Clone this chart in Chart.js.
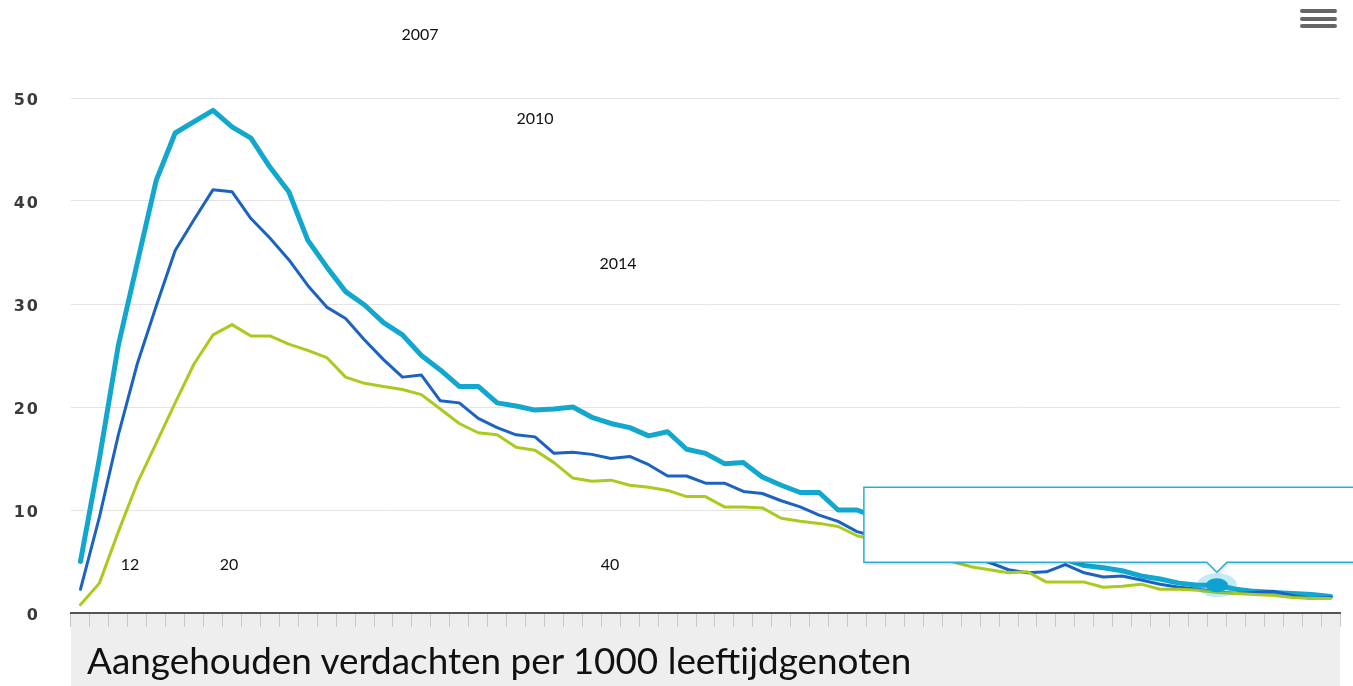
<!DOCTYPE html>
<html>
<head>
<meta charset="utf-8">
<script src="https://cdn.jsdelivr.net/npm/chart.js@4.4.1/dist/chart.umd.min.js"></script>
<style>
html,body{margin:0;padding:0;background:#fff;overflow:hidden}
#wrap{position:relative;width:1353px;height:686px}
#c{position:absolute;left:0;top:0}
.lbl{position:absolute;font-family:Lato,'Open Sans',sans-serif;font-size:16px;color:#111;transform:translate(-50%,-50%);white-space:nowrap;line-height:1}
#title{position:absolute;left:87px;font-family:Lato,'Open Sans',sans-serif;color:#111;white-space:nowrap;line-height:1}
.bar{position:absolute;left:1300px;width:37px;height:4px;background:#666;border-radius:2px}
</style>
</head>
<body>
<div id="wrap">
<canvas id="c" width="1353" height="686"></canvas>
<div class="bar" style="top:9px"></div>
<div class="bar" style="top:17px"></div>
<div class="bar" style="top:24px"></div>
<div id="title">Aangehouden verdachten per 1000 leeftijdgenoten</div>
</div>
<script>
// ---- data ----
const ages = ['12','13','14','15','16','17','18','19','20','21','22','23','24','25','26','27','28','29','30','31','32','33','34','35','36','37','38','39','40','41','42','43','44','45','46','47','48','49','50','51','52','53','54','55','56','57','58','59','60','61','62','63','64','65','66','67','68','69','70','71','72','73','74','75','76','77','78'];
const seriesNames = ['2007','2010','2014'];
const rate2007 = [5.0,15.0,26.0,34.0,42.0,46.6,47.7,48.8,47.2,46.1,
  43.3,40.9,36.2,33.6,31.2,29.9,28.2,27.0,25.0,23.6,
  22.0,22.0,20.4,20.1,19.7,19.8,20.0,19.0,18.4,18.0,
  17.2,17.6,15.9,15.5,14.5,14.6,13.2,12.4,11.7,11.7,
  10.0,10.0,9.3,8.7,8.2,7.7,7.3,6.9,6.6,6.2,
  5.9,5.6,5.2,4.6,4.4,4.1,3.6,3.3,2.9,2.7,
  2.7,2.3,2.1,2.0,1.9,1.8,1.6];
const rate2010 = [2.3,9.3,17.3,24.2,29.8,35.2,38.2,41.1,40.9,38.3,
  36.4,34.3,31.8,29.7,28.6,26.5,24.6,22.9,23.1,20.6,
  20.4,18.9,18.0,17.3,17.1,15.5,15.6,15.4,15.0,15.2,
  14.4,13.3,13.3,12.6,12.6,11.8,11.6,10.9,10.3,9.5,
  8.9,7.9,7.4,7.0,6.6,6.2,5.8,5.4,4.9,4.2,
  3.9,4.0,4.7,3.9,3.5,3.6,3.2,2.8,2.5,2.3,
  2.1,1.9,2.0,2.1,1.7,1.4,1.5];
const rate2014 = [0.8,2.9,7.9,12.6,16.5,20.4,24.2,27.0,28.0,26.9,
  26.9,26.1,25.5,24.8,22.9,22.3,22.0,21.7,21.2,19.8,
  18.4,17.5,17.3,16.1,15.8,14.6,13.1,12.8,12.9,12.4,
  12.2,11.9,11.3,11.3,10.3,10.3,10.2,9.2,8.9,8.7,
  8.4,7.5,7.1,6.6,6.1,5.6,5.0,4.5,4.2,3.9,
  4.0,3.0,3.0,3.0,2.5,2.6,2.8,2.3,2.3,2.2,
  2.0,1.9,1.8,1.7,1.5,1.4,1.4];
const yTicks = [0,10,20,30,40,50];
const looseLabels = ['12','20','40'];
const hoverAge = '72';

// ---- overlay texts ----
const wrap = document.getElementById('wrap');
function addLabel(text, x, y){
  const d = document.createElement('div');
  d.className = 'lbl'; d.textContent = text;
  d.style.left = x + 'px'; d.style.top = y + 'px';
  wrap.appendChild(d);
}
addLabel(seriesNames[0], 420, 34);
addLabel(seriesNames[1], 535, 118);
addLabel(seriesNames[2], 618, 263);
addLabel(looseLabels[0], 130, 564);
addLabel(looseLabels[1], 229, 564);
addLabel(looseLabels[2], 610, 564);

// fit title width
(function(){
  const t = document.getElementById('title');
  const mctx = document.createElement('canvas').getContext('2d');
  mctx.font = '32px Lato';
  const w = mctx.measureText(t.textContent).width;
  const F = 32 * 826 / w;
  t.style.fontSize = F.toFixed(2) + 'px';
  t.style.top = (675 - 0.887 * F).toFixed(1) + 'px';
})();

// ---- plugin ----
const decor = {
  id: 'decor',
  beforeDraw(chart){
    const {ctx, chartArea:a} = chart;
    ctx.save();
    ctx.fillStyle = '#eeeeee';
    ctx.fillRect(a.left, a.bottom, a.right - a.left, chart.height - a.bottom);
    ctx.restore();
    ctx.letterSpacing = '2px';
  },
  beforeDatasetsDraw(chart){
    chart.ctx.letterSpacing = '0px';
  },
  afterDatasetsDraw(chart){
    const {ctx} = chart;
    const idx = ages.indexOf(hoverAge);
    const meta = chart.getDatasetMeta(0);
    const pt = meta.data[idx];
    if (!pt) return;
    const px = pt.x, py = pt.y;
    ctx.save();
    ctx.fillStyle = 'rgba(20,170,215,0.25)';
    ctx.beginPath(); ctx.ellipse(px, py, 20, 12, 0, 0, Math.PI*2); ctx.fill();
    ctx.fillStyle = '#0ea2d2';
    ctx.beginPath(); ctx.ellipse(px, py, 11, 7, 0, 0, Math.PI*2); ctx.fill();
    // tooltip box
    const left = px - 353, right = chart.width + 30, bottom = py - 23, top = bottom - 75;
    ctx.beginPath();
    ctx.moveTo(left, top); ctx.lineTo(right, top); ctx.lineTo(right, bottom);
    ctx.lineTo(px + 10, bottom); ctx.lineTo(px, bottom + 10); ctx.lineTo(px - 10, bottom);
    ctx.lineTo(left, bottom); ctx.closePath();
    ctx.shadowColor = 'rgba(0,0,0,0.18)'; ctx.shadowOffsetX = 1; ctx.shadowOffsetY = 2; ctx.shadowBlur = 3;
    ctx.fillStyle = '#ffffff'; ctx.fill();
    ctx.shadowColor = 'transparent';
    ctx.strokeStyle = '#2aaed8'; ctx.lineWidth = 1.5; ctx.stroke();
    ctx.restore();
  }
};

new Chart(document.getElementById('c'), {
  type: 'line',
  data: {
    labels: ages,
    datasets: [
      {label: seriesNames[0], data: rate2007, borderColor: '#12a7cf', borderWidth: 5, order: 2},
      {label: seriesNames[1], data: rate2010, borderColor: '#1c62c2', borderWidth: 3, order: 1},
      {label: seriesNames[2], data: rate2014, borderColor: '#a9cb1e', borderWidth: 3, order: 0}
    ]
  },
  options: {
    responsive: false,
    animation: false,
    devicePixelRatio: 1,
    layout: {padding: {top: 98, right: 13, left: 0, bottom: 0}},
    elements: {
      line: {tension: 0, borderJoinStyle: 'round', borderCapStyle: 'round', fill: false},
      point: {radius: 0, hoverRadius: 0}
    },
    plugins: {legend: {display: false}, tooltip: {enabled: false}},
    events: [],
    scales: {
      x: {
        type: 'category',
        offset: true,
        grid: {offset: true, drawOnChartArea: false, drawTicks: true, tickLength: 14, color: '#c8c8c8', lineWidth: 1},
        border: {display: true, color: '#555555', width: 2},
        ticks: {display: false},
        afterFit(s){ s.height = 73; }
      },
      y: {
        min: 0, max: 50,
        afterBuildTicks(s){ s.ticks = yTicks.map(v => ({value: v})); },
        grid: {color: '#e4e4e4', lineWidth: 1, drawTicks: false},
        border: {display: false},
        ticks: {padding: 31, labelOffset: 3, color: '#3a3a3a', font: {family: 'DejaVu Sans', size: 16, weight: 'bold'}},
        afterFit(s){ s.width = 71; }
      }
    }
  },
  plugins: [decor]
});
</script>
</body>
</html>
